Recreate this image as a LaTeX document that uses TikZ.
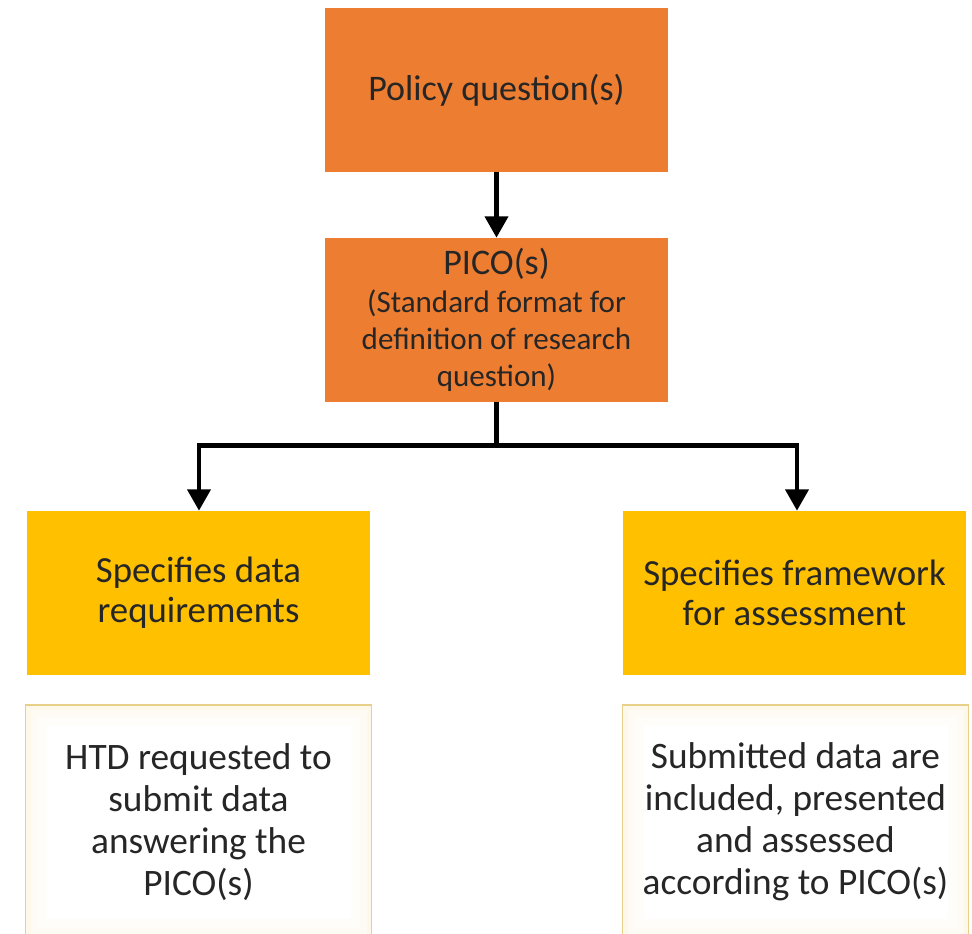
\documentclass[tikz,border=0pt]{standalone}
\usepackage{fontspec}
\setmainfont{Carlito}
\usetikzlibrary{arrows.meta,calc}
\definecolor{pqorange}{HTML}{ED7D31}
\definecolor{specyellow}{HTML}{FFC000}
\definecolor{noteedge}{HTML}{E8D088}
\definecolor{noteglow}{HTML}{FCF0D2}
\definecolor{inktext}{HTML}{262626}
\newcommand\picomain{\fontsize{27pt}{30pt}\selectfont}
\newcommand\picosub{\fontsize{23.3pt}{27.75pt}\selectfont}
\tikzset{
  px/.style={x=0.75pt,y=-0.75pt},
  orangebox/.style={fill=pqorange, draw=none, minimum width=257.25pt, minimum height=122.5pt,
    align=center, text=inktext, inner sep=0pt},
  yellowbox/.style={fill=specyellow, draw=none, minimum width=257.25pt, minimum height=123pt,
    align=center, text=inktext, inner sep=0pt, font=\fontsize{27.6pt}{30pt}\selectfont},
  notetext/.style={text=inktext, align=center, font=\fontsize{28pt}{31.6pt}\selectfont},
  flow/.style={line width=3.6pt, draw=black, -{Triangle[length=16pt,width=17pt]}},
  flowline/.style={line width=3.6pt, draw=black},
}
\begin{document}
\begin{tikzpicture}[px]
\useasboundingbox (0,0) rectangle (972,934);
\clip (0,0) rectangle (972,934);
\fill[white] (0,0) rectangle (972,934);

% top row: the policy question and its PICO
\node[orangebox, font=\picomain] (policy) at (496.5,90) {Policy question(s)};
\node[orangebox, minimum height=123pt, font=\picosub] (pico) at (496.5,320) {%
  \picomain PICO(s)\\[0.5pt]
  (Standard format for\\ definition of research\\ question)};

% second row: what the PICO specifies
\node[yellowbox] (datareq) at (198.5,593) {Specifies data\\ requirements};
\node[yellowbox] (frame) at (794.5,593) {Specifies framework\\ for assessment};

% notes with a faint inner glow
\foreach \cx in {198.5, 795.5}{
  \fill[white!55!noteglow] (\cx-173,705) rectangle (\cx+173,940);
  \fill[white!75!noteglow] (\cx-168,710) rectangle (\cx+168,935);
  \fill[white!90!noteglow] (\cx-161,717) rectangle (\cx+161,928);
  \fill[white] (\cx-152,726) rectangle (\cx+152,919);
  \draw[noteedge, line width=1.3pt] (\cx-173,705) rectangle (\cx+173,940);
}
\node[notetext] (htd) at (198.5,822)
  {HTD requested to\\ submit data\\ answering the\\ PICO(s)};
\node[notetext] (sub) at (795.5,822)
  {Submitted data are\\ included, presented\\ and assessed\\ according to PICO(s)};

% connectors
\draw[flow] (policy.south) -- (pico.north);
\coordinate (split) at ($(pico.south)+(0,43)$);
\draw[flowline] (pico.south) -- (split);
\draw[flow] (split) -| ($(datareq.north)+(0.5,0)$);
\draw[flow] (split) -| ($(frame.north)+(2.5,0)$);
\end{tikzpicture}
\end{document}
